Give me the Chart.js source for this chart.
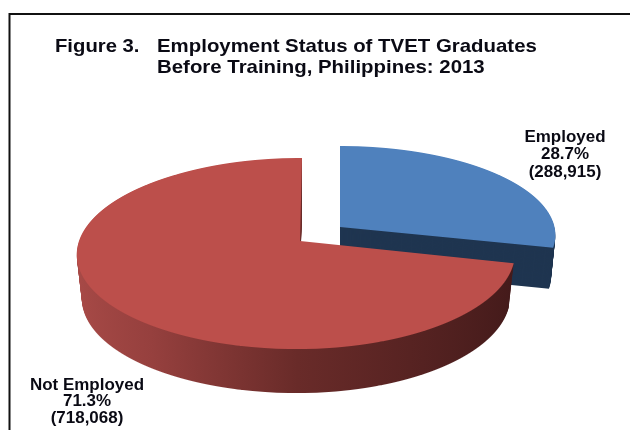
<!DOCTYPE html>
<html><head><meta charset="utf-8">
<style>html,body{margin:0;padding:0;background:#fff}canvas{display:block}</style>
<script src="https://cdn.jsdelivr.net/npm/chart.js@4"></script></head>
<body><canvas id="c" width="630" height="430"></canvas>
<script>
const categories = ['Employed', 'Not Employed'];
const values = [288915, 718068];
const percents = ['28.7%', '71.3%'];
const counts = ['(288,915)', '(718,068)'];
const titleLabel = 'Figure 3.';
const titleLines = ['Employment Status of TVET Graduates', 'Before Training, Philippines: 2013'];
const topColors = ['#4f81bd', '#bc4f4b'];

// Perspective view of each slice: apex, radii, foreshortening k, shear, wall depth, wall taper
const views = [
  {ax:340, ay:227, rxL:214.5, rxR:214.5, ry:88.3, k:0.09, lean:0, depth:41, taper:0.02},
  {ax:300, ay:241, rxL:221, rxR:213.5, ry:93.9, k:0.131, lean:0.024, depth:44, taper:0.023}
];
const labelPos = [{x:565, y:[141.5,159,176.5]}, {x:87, y:[389.5,406,423]}];
const wallStops = [[0,'#a84a47'],[0.2,'#96403e'],[0.5,'#692b29'],[1,'#431a1a']];

const pie3d = {
  id:'pie3d',
  beforeDatasetDraw(chart, args){
    const ctx = chart.ctx, arcs = args.meta.data;
    [0,1].forEach(i=>{
      const arc = arcs[i], v = views[i], R = arc.outerRadius, cx = arc.x, cy = arc.y;
      const base = arc.options;
      const wallFill = ()=>{
        if(i===0) return '#1f3550';
        const g = ctx.createLinearGradient(cx-R,0,cx+R,0);
        wallStops.forEach(s=>g.addColorStop(s[0],s[1]));
        return g;
      };
      const paint = (dy, fill)=>{
        const o = Object.create(base);
        o.backgroundColor = fill; o.borderWidth = 0; o.offset = 0;
        arc.options = o;
        const y0 = Math.floor(v.ay - v.ry/(1+v.k));
        const y1 = Math.ceil(v.ay + v.ry/(1-v.k));
        const shrink = 1 - v.taper*dy/v.depth;
        const halves = v.rxL===v.rxR ? [[v.rxL,0,630]] : [[v.rxL,0,v.ax],[v.rxR,v.ax,630]];
        for(let row=y0; row<=y1; row++){
          const s = row + 0.5 - v.ay;
          const t = s/(v.ry + v.k*s);
          const w = 1 - v.k*t;
          const mx = v.ax - v.lean*s;
          halves.forEach(([rx,a,b])=>{
            ctx.save();
            ctx.beginPath();
            const xa = a===0 ? 0 : Math.round(mx), xb = b===630 ? 630 : Math.round(mx);
            ctx.rect(xa,row+dy,xb-xa,1);
            ctx.clip();
            ctx.translate(mx, row+0.5+dy);
            ctx.scale(rx*shrink/(R*w), v.ry/(R*w*w));
            ctx.translate(-cx, -(cy + t*R));
            arc.draw(ctx);
            ctx.restore();
          });
        }
      };
      const wall = wallFill();
      for(let d=v.depth; d>=1; d--) paint(d, wall);
      paint(0, topColors[i]);
      arc.options = base;
    });
    return false;
  },
  afterDraw(chart){
    const ctx = chart.ctx;
    ctx.save();
    ctx.strokeStyle='#111'; ctx.lineWidth=2;
    ctx.beginPath(); ctx.moveTo(9.5,430); ctx.lineTo(9.5,14); ctx.lineTo(630,14); ctx.stroke();
    const stretched=(t,x,y,sx)=>{ctx.save();ctx.translate(x,y);ctx.scale(sx,1);ctx.fillText(t,0,0);ctx.restore();};
    ctx.fillStyle='#0a0a14'; ctx.textBaseline='alphabetic'; ctx.textAlign='left';
    ctx.font='bold 18.5px "Liberation Sans"';
    stretched(titleLabel,55,52,1.095);
    stretched(titleLines[0],157,52,1.103);
    stretched(titleLines[1],157,73,1.103);
    ctx.font='bold 16px "Liberation Sans"'; ctx.textAlign='center';
    categories.forEach((c,i)=>{
      const p=labelPos[i];
      [c,percents[i],counts[i]].forEach((t,j)=>stretched(t,p.x,p.y[j],1.06));
    });
    ctx.restore();
  }
};
new Chart(document.getElementById('c'),{
  type:'pie',
  data:{labels:categories,datasets:[{data:values,backgroundColor:topColors,borderWidth:0}]},
  options:{responsive:false,animation:false,layout:{padding:0},
    plugins:{legend:{display:false},tooltip:{enabled:false}}},
  plugins:[pie3d]
});
</script></body></html>
